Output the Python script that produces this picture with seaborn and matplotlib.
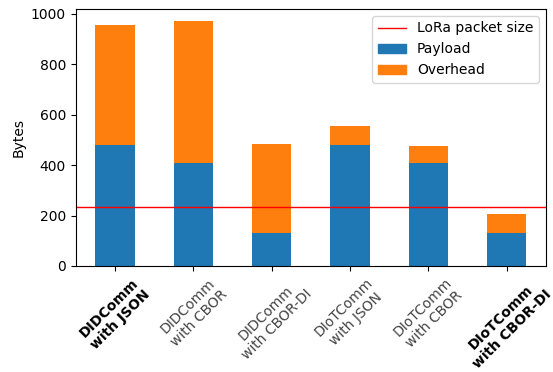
import matplotlib
matplotlib.use("Agg")
import matplotlib.pyplot as plt
import seaborn as sns
import pandas as pd
from matplotlib.lines import Line2D
from matplotlib.patches import Patch

# Message size per protocol / encoding
categories = ["DIDComm\nwith JSON", "DIDComm\nwith CBOR", "DIDComm\nwith CBOR-DI",
              "DIoTComm\nwith JSON", "DIoTComm\nwith CBOR", "DIoTComm\nwith CBOR-DI"]
payload = [480, 409, 131, 480, 409, 131]
overhead = [477, 564, 353, 76, 68, 75]
lora_packet_size = 235
bold_labels = [0, 5]

df = pd.DataFrame({"category": categories, "payload": payload,
                   "total": [p + o for p, o in zip(payload, overhead)]})

blue = "#1f77b4"
orange = "#ff7f0e"

fig, ax = plt.subplots(figsize=(5.53, 3.72), dpi=100)
fig.subplots_adjust(left=0.137, right=0.987, top=0.976, bottom=0.285)

sns.barplot(data=df, x="category", y="total", color=orange, saturation=1,
            width=0.5, ax=ax)
sns.barplot(data=df, x="category", y="payload", color=blue, saturation=1,
            width=0.5, ax=ax)
ax.axhline(lora_packet_size, color="red", lw=1)

ax.set_xlim(-0.5, len(categories) - 0.5)
ax.set_ylim(0, 1020)
ax.set_xlabel("")
ax.set_ylabel("Bytes", fontsize=10)
ax.set_xticks(range(len(categories)))
ax.set_xticklabels(categories, rotation=45, ha="center", fontsize=10)
for i, t in enumerate(ax.get_xticklabels()):
    if i in bold_labels:
        t.set_fontweight("bold")
        t.set_color("black")
    else:
        t.set_color("#444444")

handles = [Line2D([0], [0], color="red", lw=1),
           Patch(color=blue), Patch(color=orange)]
ax.legend(handles, ["LoRa packet size", "Payload", "Overhead"],
          loc="upper right", fontsize=10)

fig.savefig("out.png", dpi=100)
